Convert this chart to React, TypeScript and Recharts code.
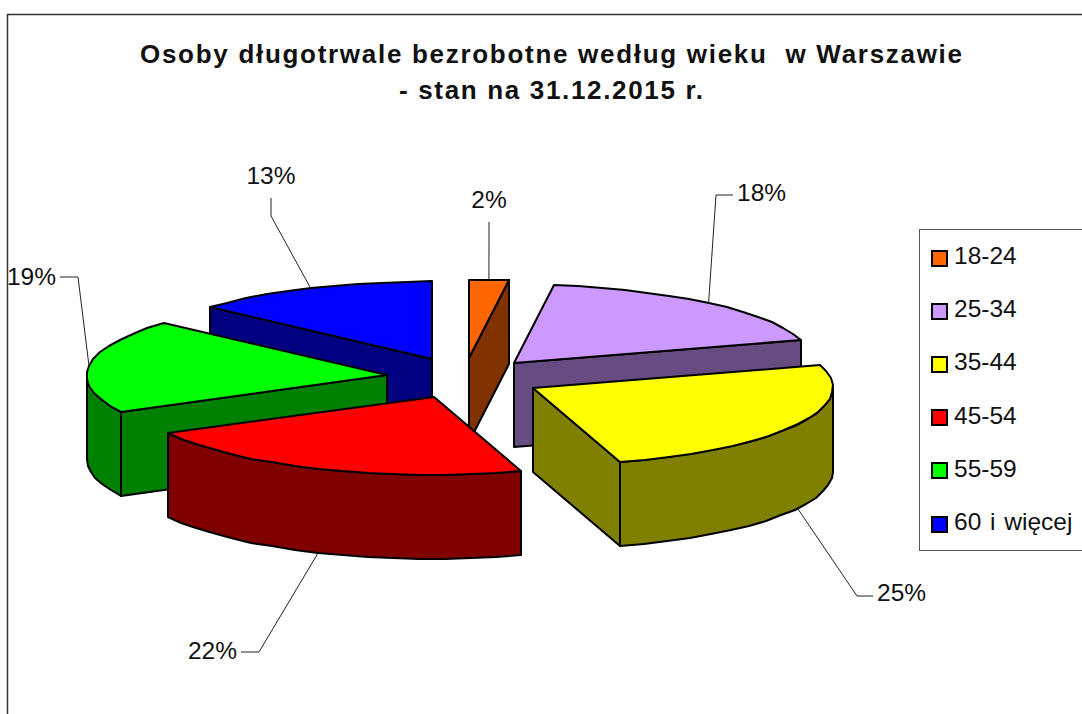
import React from "react";
import { PieChart, Pie, Legend } from "recharts";

const AGE_GROUPS = ["18-24", "25-34", "35-44", "45-54", "55-59", "60 i więcej"];
const SHARES = [2.1, 18.2, 25.0, 22.0, 19.4, 13.3];
const TITLE_LINES = ["Osoby długotrwale bezrobotne według wieku  w Warszawie", "- stan na 31.12.2015 r."];

const TOP_COLORS = ["#ff6600", "#cc99ff", "#ffff00", "#ff0000", "#00ff00", "#0000ff"];
const SIDE_COLORS = ["#803300", "#664c80", "#808000", "#800000", "#008000", "#000080"];

// back slices first, front ones last
const PAINT_ORDER = ["60 i więcej", "18-24", "25-34", "55-59", "35-44", "45-54"];

const FONT = "'Liberation Sans', Arial, sans-serif";
const SQUASH = 0.26;
const DEPTH = 84;
const EXPLODE = 0.26;

// elbow and end of the leader line, where the text sits
const LEADERS: Record<string, { elbow: number[]; end: number[]; text: number[]; anchor: string; front?: boolean }> = {
  "18-24": { elbow: [489, 240], end: [489, 222], text: [489, 208], anchor: "middle" },
  "25-34": { elbow: [716, 195], end: [733, 195], text: [737, 201], anchor: "start" },
  "35-44": { elbow: [857, 596], end: [873, 596], text: [877, 601], anchor: "start", front: true },
  "45-54": { elbow: [259, 652], end: [241, 652], text: [237, 659], anchor: "end", front: true },
  "55-59": { elbow: [78, 277], end: [60, 277], text: [56, 285], anchor: "end" },
  "60 i więcej": { elbow: [271, 216], end: [271, 198], text: [271, 184], anchor: "middle" },
};

const rad = (a: number) => (a * Math.PI) / 180;

// recharts angle -> squashed point on the rim
const rim = (cx: number, cy: number, r: number, angle: number) => [
  cx + r * Math.cos(rad(angle)),
  cy - r * SQUASH * Math.sin(rad(angle)),
];

const explodedCentre = (cx: number, cy: number, r: number, mid: number) =>
  rim(cx, cy, r * EXPLODE, mid);

const toPath = (pts: number[][]) =>
  "M" + pts.map((p) => `${Math.round(p[0])},${Math.round(p[1])}`).join("L") + "Z";

const arcPoints = (cx: number, cy: number, r: number, from: number, to: number) => {
  const n = Math.max(1, Math.ceil(Math.abs(from - to) / 5));
  const pts: number[][] = [];
  for (let i = 0; i <= n; i++) pts.push(rim(cx, cy, r, from + ((to - from) * i) / n));
  return pts;
};

const down = (p: number[]) => [p[0], p[1] + DEPTH];

function Slice3D(props: any) {
  const { cx, cy, outerRadius: r, startAngle, endAngle, name, only } = props;
  if (name !== only) return null;
  const i = AGE_GROUPS.indexOf(name);
  const mid = (startAngle + endAngle) / 2;
  const [ox, oy] = explodedCentre(cx, cy, r, mid);
  const arc = arcPoints(ox, oy, r, startAngle, endAngle);
  const apex = [ox, oy];
  const first = arc[0];
  const last = arc[arc.length - 1];
  const stroke = { stroke: "#000", strokeWidth: 2, strokeLinejoin: "round" as const };

  // cut faces are only seen when they turn towards the viewer
  const showStart = Math.cos(rad(startAngle)) < -0.01;
  const showEnd = Math.cos(rad(endAngle)) > 0.01;

  // outer wall: only the part of the rim facing the viewer
  const walls: number[][][] = [];
  for (const [a, b] of [[0, -180], [-360, -540]]) {
    const s = Math.min(startAngle, a);
    const e = Math.max(endAngle, b);
    if (s > e) {
      const top = arcPoints(ox, oy, r, s, e);
      walls.push([...top, ...top.map(down).reverse()]);
    }
  }

  return (
    <g>
      {showStart && <path d={toPath([apex, first, down(first), down(apex)])} fill={SIDE_COLORS[i]} {...stroke} />}
      {showEnd && <path d={toPath([apex, last, down(last), down(apex)])} fill={SIDE_COLORS[i]} {...stroke} />}
      {walls.map((w, k) => (
        <path key={k} d={toPath(w)} fill={SIDE_COLORS[i]} {...stroke} />
      ))}
      <path d={toPath([apex, ...arc])} fill={TOP_COLORS[i]} {...stroke} />
    </g>
  );
}

function SliceLabel(props: any) {
  const { cx, cy, outerRadius: r, midAngle, percent, name, only } = props;
  if (name !== only) return null;
  const l = LEADERS[name];
  const [ox, oy] = explodedCentre(cx, cy, r, midAngle);
  const start = rim(ox, oy, r, midAngle);
  const y0 = l.front ? start[1] + DEPTH : start[1];
  return (
    <g>
      <polyline
        points={`${start[0]},${y0} ${l.elbow.join(",")} ${l.end.join(",")}`}
        fill="none"
        stroke="#222"
        strokeWidth={1}
      />
      <text x={l.text[0]} y={l.text[1]} textAnchor={l.anchor as any} fontFamily={FONT} fontSize={24.5} fill="#111">
        {Math.round(percent * 100)}%
      </text>
    </g>
  );
}

function AgeLegend() {
  return (
    <div style={{ position: "relative", width: 200, height: 322, boxSizing: "border-box", border: "1.5px solid #555", background: "#fff" }}>
      {AGE_GROUPS.map((g, i) => (
        <div key={g} style={{ position: "absolute", left: 11, top: 20 + i * 53.2, display: "flex", alignItems: "center", height: 16, whiteSpace: "nowrap" }}>
          <span style={{ width: 13, height: 13, border: "2px solid #000", background: TOP_COLORS[i], display: "inline-block", flex: "none" }} />
          <span style={{ marginLeft: 6, marginTop: -4, fontFamily: FONT, fontSize: 24.5, wordSpacing: 2, color: "#111" }}>{g}</span>
        </div>
      ))}
    </div>
  );
}

const pieData = AGE_GROUPS.map((name, i) => ({ name, value: SHARES[i] }));

export default function App() {
  return (
    <div style={{ position: "absolute", left: 0, top: 0, width: 1082, height: 714, background: "#fff", overflow: "hidden" }}>
      <PieChart width={1082} height={714} margin={{ top: 0, right: 0, bottom: 0, left: 0 }}>
        <path d="M7.5,714V14.5H1082" fill="none" stroke="#333" strokeWidth={1.5} />
        <text x={140} y={63} textLength={822} lengthAdjust="spacing" fontFamily={FONT} fontWeight="bold" fontSize={26} fill="#111" xmlSpace="preserve">
          {TITLE_LINES[0]}
        </text>
        <text x={399} y={99} textLength={304} lengthAdjust="spacing" fontFamily={FONT} fontWeight="bold" fontSize={26} fill="#111">
          {TITLE_LINES[1]}
        </text>
        {PAINT_ORDER.map((only) => (
          <Pie
            key={only}
            data={pieData}
            dataKey="value"
            nameKey="name"
            cx={464}
            cy={378}
            outerRadius={300}
            startAngle={90}
            endAngle={-270}
            isAnimationActive={false}
            legendType="none"
            labelLine={false}
            label={(p: any) => <SliceLabel {...p} only={only} />}
            shape={(p: any) => <Slice3D {...p} only={only} />}
          />
        ))}
        <Legend
          content={<AgeLegend />}
          wrapperStyle={{ position: "absolute", left: 919, top: 229, width: 200, height: 322 }}
        />
      </PieChart>
    </div>
  );
}
